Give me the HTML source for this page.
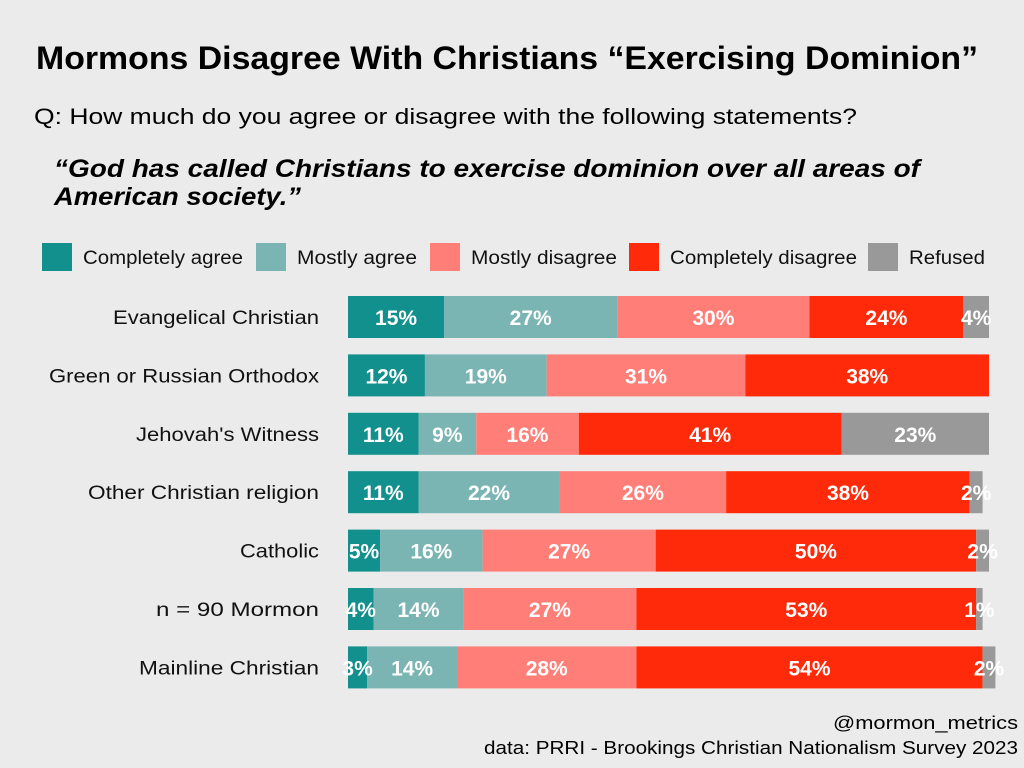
<!DOCTYPE html>
<html><head><meta charset="utf-8"><style>
body{margin:0;width:1024px;height:768px;background:#ebebeb;font-family:"Liberation Sans",sans-serif;overflow:hidden;position:relative}
</style></head><body>
<svg id="chart" width="1024" height="768" style="position:absolute;left:0;top:0">
<text x="36" y="69" font-size="32" font-weight="bold" textLength="942" lengthAdjust="spacingAndGlyphs">Mormons Disagree With Christians “Exercising Dominion”</text>
<text x="34" y="124" font-size="22" textLength="823" lengthAdjust="spacingAndGlyphs">Q: How much do you agree or disagree with the following statements?</text>
<text x="54" y="177" font-size="25" font-weight="bold" font-style="italic" textLength="866" lengthAdjust="spacingAndGlyphs">“God has called Christians to exercise dominion over all areas of</text>
<text x="54" y="205" font-size="25" font-weight="bold" font-style="italic" textLength="247" lengthAdjust="spacingAndGlyphs">American society.”</text>
<text x="833" y="729" font-size="18" textLength="185" lengthAdjust="spacingAndGlyphs">@mormon_metrics</text>
<text x="484" y="754" font-size="18" textLength="534" lengthAdjust="spacingAndGlyphs">data: PRRI - Brookings Christian Nationalism Survey 2023</text>
</svg>
<script>
const categories=["Evangelical Christian","Green or Russian Orthodox","Jehovah's Witness","Other Christian religion","Catholic","n = 90  Mormon","Mainline Christian"];
const seriesNames=["Completely agree","Mostly agree","Mostly disagree","Completely disagree","Refused"];
const completelyAgree=[15,12,11,11,5,4,3];
const mostlyAgree=[27,19,9,22,16,14,14];
const mostlyDisagree=[30,31,16,26,27,27,28];
const completelyDisagree=[24,38,41,38,50,53,54];
const refused=[4,0,23,2,2,1,2];
const colors=["#12908e","#7ab5b3","#ff7f78","#ff2a0a","#999999"];
const series=[completelyAgree,mostlyAgree,mostlyDisagree,completelyDisagree,refused];
const catWidths=[206,270,183,231,79,163,180];
const legX=[42,256,430,629,868];
const legW=[160,120,146,187,76];
const NS="http://www.w3.org/2000/svg";
const svg=document.getElementById('chart');
const x0=348,x1=989,yTop=296,step=58.4,bh=42;
const xs=v=>x0+v/100*(x1-x0);
const yc=i=>yTop+i*step;
function mk(t,a){const e=document.createElementNS(NS,t);for(const k in a)e.setAttribute(k,a[k]);svg.appendChild(e);return e;}
seriesNames.forEach((n,j)=>{
  const r=mk('rect',{x:legX[j],y:243,width:30,height:28,fill:colors[j]});
  
  
  const t=mk('text',{x:legX[j]+41,y:264,'font-size':19,fill:'#111',textLength:legW[j],lengthAdjust:'spacingAndGlyphs'});
  t.textContent=n;
  
  
});
categories.forEach((c,i)=>{
  const y=yc(i);
  const lbl=mk('text',{x:319-catWidths[i],y:y+bh/2+7,'font-size':19,fill:'#111',textLength:catWidths[i],lengthAdjust:'spacingAndGlyphs'});
  lbl.textContent=c;
  
  
  let cum=0;
  series.forEach((s,j)=>{
    const v=s[i];if(!v)return;
    const a=xs(cum),b=xs(cum+v);
    const r=mk('rect',{x:a,y:y,width:b-a,height:bh,fill:colors[j]});
    
    
    cum+=v;
  });
  cum=0;
  series.forEach((s,j)=>{
    const v=s[i];if(!v)return;
    const a=xs(cum),b=xs(cum+v);
    const t=mk('text',{x:(a+b)/2,y:y+bh/2+8,'font-size':21,'font-weight':'bold','text-anchor':'middle',fill:'#fff'});
    t.textContent=v+'%';
    
    
    cum+=v;
  });
});
</script>
</body></html>
